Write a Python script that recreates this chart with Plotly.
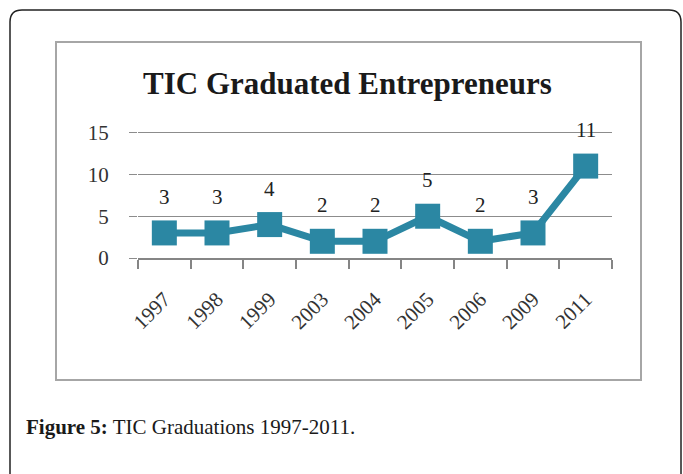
import plotly.graph_objects as go

# ---- data ----
years = ["1997", "1998", "1999", "2003", "2004", "2005", "2006", "2009", "2011"]
graduates = [3, 3, 4, 2, 2, 5, 2, 3, 11]
y_ticks = [0, 5, 10, 15]
chart_title = "TIC Graduated Entrepreneurs"
caption_bold = "Figure 5:"
caption_rest = " TIC Graduations 1997-2011."

# ---- layout geometry (pixels) ----
W, H = 683, 474
L, R, T, B = 138, 71, 131, 216
PW, PH = W - L - R, H - T - B


def px(x):
    return (x - L) / PW


def py(y):
    return (H - B - y) / PH


line_color = "#2B87A3"
serif = "Liberation Serif, DejaVu Serif, serif"

fig = go.Figure()
fig.add_trace(go.Scatter(
    x=years, y=graduates,
    mode="lines+markers",
    line=dict(color=line_color, width=7),
    marker=dict(symbol="square", size=25, color=line_color),
    cliponaxis=False,
    hoverinfo="x+y",
))

shapes = []
# outer rounded frame
r = 12
x0, y0, x1 = 10, 10, 681
path = (f"M {px(x0)} {py(H + 20)} L {px(x0)} {py(y0 + r)} "
        f"Q {px(x0)} {py(y0)} {px(x0 + r)} {py(y0)} "
        f"L {px(x1 - r)} {py(y0)} Q {px(x1)} {py(y0)} {px(x1)} {py(y0 + r)} "
        f"L {px(x1)} {py(H + 20)}")
shapes.append(dict(type="path", xref="paper", yref="paper", path=path,
                   line=dict(color="#222222", width=1.5)))
# inner chart box
shapes.append(dict(type="rect", xref="paper", yref="paper",
                   x0=px(56), x1=px(641), y0=py(380), y1=py(42),
                   line=dict(color="#A6A6A6", width=2), layer="below"))

annotations = [
    dict(xref="paper", yref="paper", x=px(347), y=py(83), text=f"<b>{chart_title}</b>",
         showarrow=False, xanchor="center", yanchor="middle",
         font=dict(family=serif, size=31, color="#1a1a1a")),
    dict(xref="paper", yref="paper", x=px(24), y=py(427),
         text=f"<b>{caption_bold}</b>{caption_rest}",
         showarrow=False, xanchor="left", yanchor="middle",
         font=dict(family=serif, size=21, color="#1a1a1a")),
]
# data labels above the points (category index positions)
for i, v in enumerate(graduates):
    annotations.append(dict(
        x=i, y=v, xref="x", yref="y", text=str(v), showarrow=False,
        xanchor="center", yanchor="middle", yshift=36,
        font=dict(family=serif, size=21, color="#222222"),
    ))

fig.update_layout(
    width=W, height=H,
    margin=dict(l=L, r=R, t=T, b=B),
    paper_bgcolor="white", plot_bgcolor="white",
    showlegend=False,
    shapes=shapes,
    annotations=annotations,
    xaxis=dict(
        type="category", categoryorder="array", categoryarray=years,
        range=[-0.5, len(years) - 0.5], tickson="boundaries",
        showgrid=False, showline=True, linecolor="#858585", linewidth=1.5,
        ticks="outside", ticklen=9, tickcolor="#858585", tickwidth=1.5,
        tickangle=-45, ticklabelstandoff=19,
        tickfont=dict(family=serif, size=21, color="#333333"),
        zeroline=False,
    ),
    yaxis=dict(
        range=[0, 15.2], tickvals=y_ticks,
        showgrid=True, gridcolor="#8C8C8C", gridwidth=1.2,
        showline=False, zeroline=False,
        ticks="outside", ticklen=8, tickcolor="#8C8C8C", tickwidth=1.2,
        tickfont=dict(family=serif, size=21, color="#333333"),
        ticklabelstandoff=16,
    ),
)

fig.write_html("out.html", config={"displayModeBar": False},
               post_script="document.body.style.margin='0';")
